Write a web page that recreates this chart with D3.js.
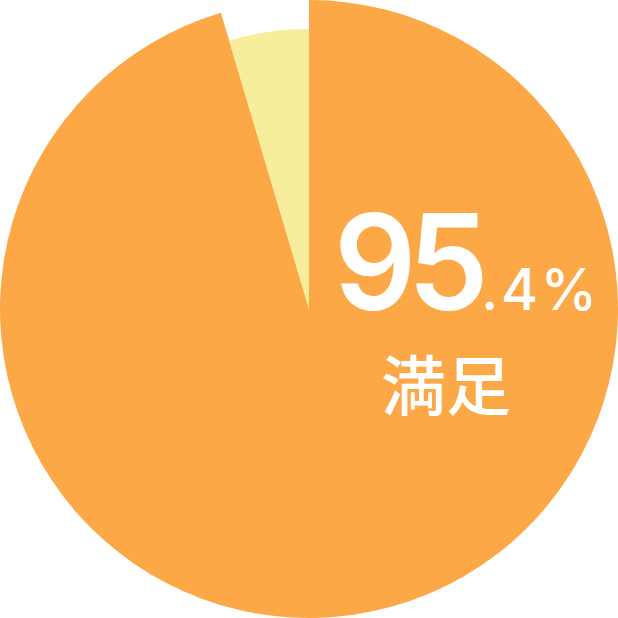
<!DOCTYPE html>
<html>
<head>
<meta charset="utf-8">
<script src="https://cdn.jsdelivr.net/npm/d3@7"></script>
<style>
  html, body { margin: 0; padding: 0; background: #fff; }
</style>
</head>
<body>
<div id="chart"></div>
<script>
const categories = ["満足", "その他"];
const values = [95.4, 4.6];
const colors = ["#FCA847", "#F6EE9A"];

const W = 618, H = 618;
const cx = 309, cy = 309;

const svg = d3.select("#chart").append("svg")
    .attr("width", W)
    .attr("height", H);

const g = svg.append("g")
    .attr("transform", `translate(${cx}, ${cy})`);

const pie = d3.pie().sort(null).value(d => d.value);
const arcs = pie(categories.map((c, i) => ({ name: c, value: values[i] })));

// main slice full size, the small one pulled in
const radius = d3.scaleOrdinal().domain(categories).range([309, 280]);

g.selectAll("path")
    .data(arcs)
    .join("path")
    .attr("d", d => d3.arc().innerRadius(0).outerRadius(radius(d.data.name))(d))
    .attr("fill", (d, i) => colors[i]);

// label
const main = values[0].toFixed(1).split(".");

svg.append("text")
    .attr("x", 334)
    .attr("y", 310)
    .attr("fill", "#fff")
    .style("font-family", "Inter, 'Noto Sans', sans-serif")
    .style("font-size", "133px")
    .style("font-weight", 600)
    .attr("letter-spacing", "-9")
    .attr("textLength", 146)
    .attr("lengthAdjust", "spacingAndGlyphs")
    .text(main[0]);

svg.append("text")
    .attr("x", 481)
    .attr("y", 310)
    .attr("fill", "#fff")
    .style("font-family", "Inter, 'Noto Sans', sans-serif")
    .style("font-size", "57px")
    .style("font-weight", 500)
    .attr("textLength", 116)
    .attr("lengthAdjust", "spacing")
    .text("." + main[1] + "%");

svg.append("text")
    .attr("x", 446)
    .attr("y", 410)
    .attr("text-anchor", "middle")
    .attr("fill", "#fff")
    .style("font-family", "'Noto Sans CJK JP', sans-serif")
    .style("font-size", "65px")
    .style("font-weight", 500)
    .text(categories[0]);
</script>
</body>
</html>
